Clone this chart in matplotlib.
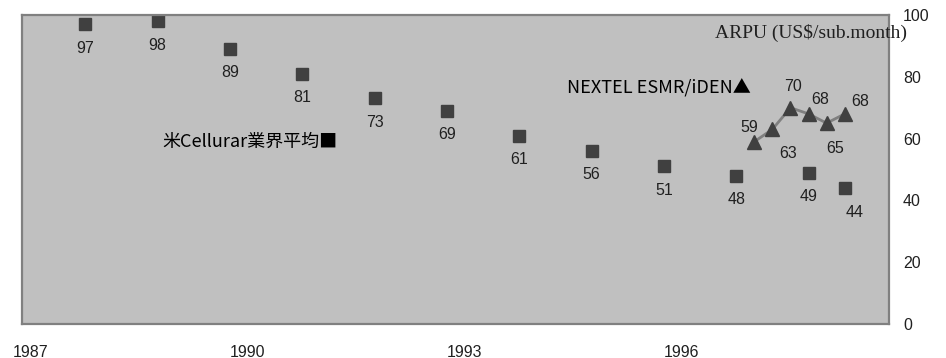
import matplotlib
matplotlib.use("Agg")
import matplotlib.pyplot as plt

# US cellular industry average ARPU (US$/sub.month)
years_us = [1987.75, 1988.75, 1989.75, 1990.75, 1991.75, 1992.75,
            1993.75, 1994.75, 1995.75, 1996.75, 1997.75, 1998.25]
arpu_us = [97, 98, 89, 81, 73, 69, 61, 56, 51, 48, 49, 44]

# NEXTEL ESMR/iDEN quarterly ARPU
years_nextel = [1997.0, 1997.25, 1997.5, 1997.75, 1998.0, 1998.25]
arpu_nextel = [59, 63, 70, 68, 65, 68]

x_ticks = [1987, 1990, 1993, 1996]
y_ticks = [0, 20, 40, 60, 80, 100]

# label offsets in pixels (style only)
us_offsets = [(0, -24)] * 11 + [(10, -24)]
nextel_offsets = [(-5, 14), (16, -24), (3, 21), (12, 14), (8, -25), (15, 12)]

DARK = "#404040"
EDGE_GRAY = "#808080"
FACE = "#c0c0c0"
SANS = ["Liberation Sans", "DejaVu Sans"]
CJK = ["Noto Sans CJK JP", "DejaVu Sans"]

fig = plt.figure(figsize=(9.46, 3.58), dpi=100)
ax = fig.add_axes([22 / 946, 1 - 324 / 358, (889 - 22) / 946, (324 - 15) / 358])
ax.set_facecolor(FACE)

ax.plot(years_us, arpu_us, linestyle="none", marker="s", markersize=8.5,
        color=DARK, markeredgecolor=DARK)
ax.plot(years_nextel, arpu_nextel, color=EDGE_GRAY, linewidth=2,
        marker="^", markersize=10, markerfacecolor=DARK, markeredgecolor=DARK)

for x, y, (dx, dy) in zip(years_us, arpu_us, us_offsets):
    ax.annotate(f"{y}", (x, y), xytext=(dx, dy), textcoords="offset pixels",
                ha="center", va="center", fontsize=11.5, family=SANS, color="#202020")
for x, y, (dx, dy) in zip(years_nextel, arpu_nextel, nextel_offsets):
    ax.annotate(f"{y}", (x, y), xytext=(dx, dy), textcoords="offset pixels",
                ha="center", va="center", fontsize=11.5, family=SANS, color="#202020")

# series captions
ax.annotate("米Cellurar業界平均■", xy=(337, 358 - 142), xycoords="figure pixels",
            ha="right", va="center", fontsize=13, family=CJK, color="black")
ax.annotate("NEXTEL ESMR/iDEN▲", xy=(751, 358 - 88), xycoords="figure pixels",
            ha="right", va="center", fontsize=13, family=CJK, color="black")
ax.annotate("ARPU (US$/sub.month)", xy=(907, 358 - 33), xycoords="figure pixels",
            ha="right", va="center", fontsize=14, family=["Liberation Serif"],
            color="#202020", annotation_clip=False)

ax.set_xlim(1986.876, 1998.862)
ax.set_ylim(0, 100)
ax.set_xticks(x_ticks)
ax.set_xticklabels([str(t) for t in x_ticks], family=SANS, fontsize=11.5)
ax.set_yticks(y_ticks)
ax.set_yticklabels([str(t) for t in y_ticks], family=SANS, fontsize=11.5)
ax.yaxis.tick_right()
ax.tick_params(axis="x", length=0, pad=15, colors="#202020")
ax.tick_params(axis="y", length=0, pad=10, colors="#202020")
for s in ax.spines.values():
    s.set_color(EDGE_GRAY)
    s.set_linewidth(1.6)

fig.savefig("out.png", dpi=100)
